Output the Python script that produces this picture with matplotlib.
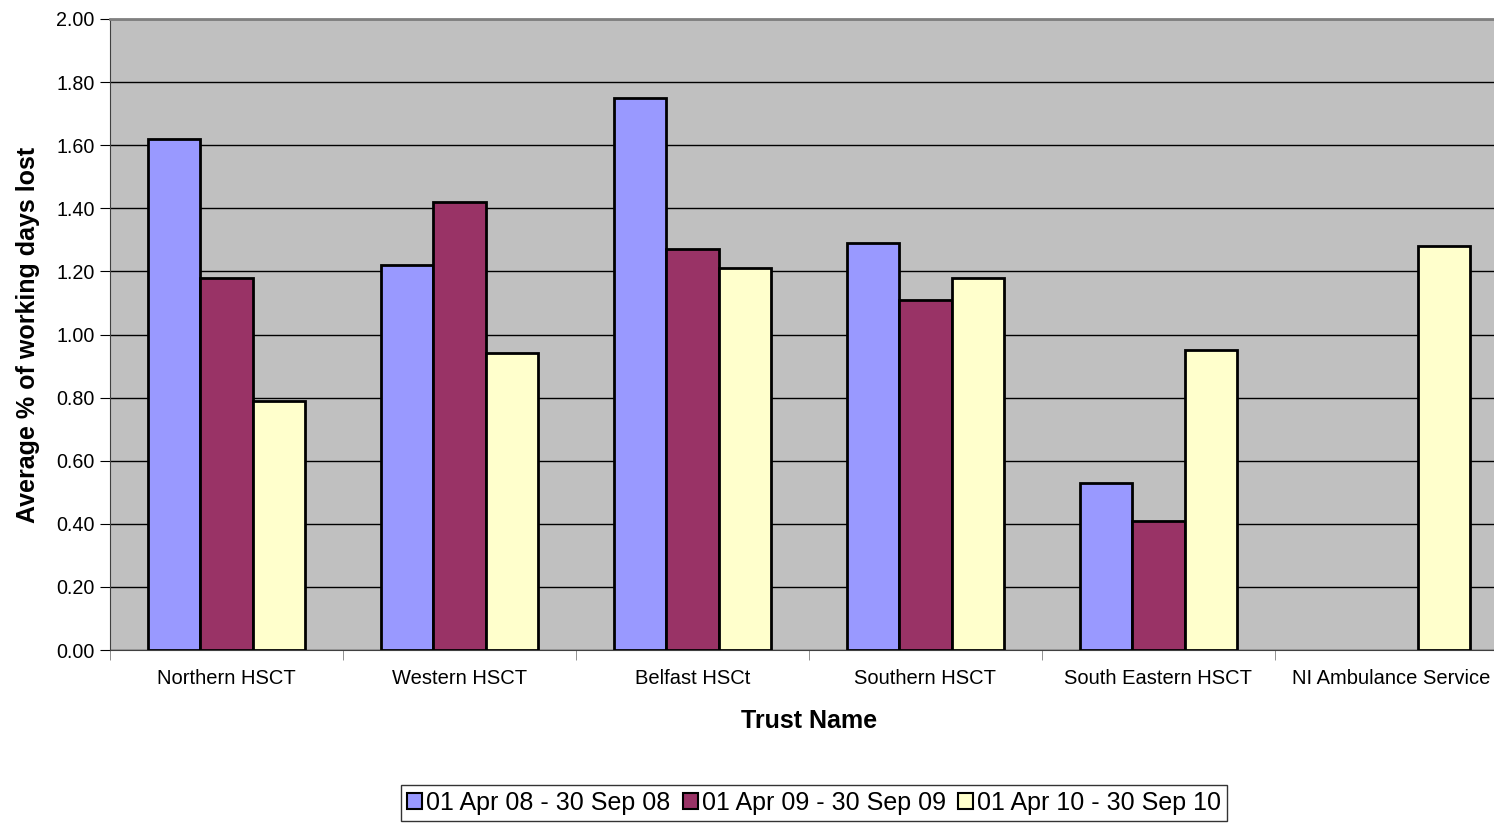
import numpy as np
import matplotlib.pyplot as plt
from matplotlib.patches import Patch

trusts = ["Northern HSCT", "Western HSCT", "Belfast HSCt", "Southern HSCT",
          "South Eastern HSCT", "NI Ambulance Service"]
periods = ["01 Apr 08 - 30 Sep 08", "01 Apr 09 - 30 Sep 09", "01 Apr 10 - 30 Sep 10"]
vals_08 = [1.62, 1.22, 1.75, 1.29, 0.53, 0]
vals_09 = [1.18, 1.42, 1.27, 1.11, 0.41, 0]
vals_10 = [0.79, 0.94, 1.21, 1.18, 0.95, 1.28]
colors = ["#9999FF", "#993366", "#FFFFCC"]

plt.rcParams['font.family'] = ['Liberation Sans', 'DejaVu Sans']

W, H = 1494, 823
fig = plt.figure(figsize=(W / 100, H / 100), dpi=100)
left, right, top, bottom = 110, 110 + 6 * 233, 19, 650
ax = fig.add_axes([left / W, 1 - bottom / H, (right - left) / W, (bottom - top) / H])
ax.set_facecolor("#C0C0C0")

x = np.arange(len(trusts))
bw = 0.224
for i, vals in enumerate([vals_08, vals_09, vals_10]):
    xs = [xi + (i - 1) * bw for xi, v in zip(x, vals) if v > 0]
    hs = [v for v in vals if v > 0]
    ax.bar(xs, hs, width=bw, color=colors[i], edgecolor="black", linewidth=2, zorder=3)

ax.set_xlim(-0.5, len(trusts) - 0.5)
ax.set_ylim(0, 2.0)
ax.set_yticks(np.arange(0, 2.01, 0.2))
ax.set_yticklabels([f"{v:.2f}" for v in np.arange(0, 2.01, 0.2)], fontsize=14.2)
ax.yaxis.grid(True, color="black", linewidth=1, zorder=1)
ax.set_axisbelow(True)

ax.set_xticks(x)
ax.set_xticklabels(trusts, fontsize=14.5)
ax.set_xticks(np.arange(-0.5, len(trusts), 1), minor=True)
ax.tick_params(axis='x', which='major', length=0, pad=14)
ax.tick_params(axis='x', which='minor', length=7, color="#808080")
ax.tick_params(axis='y', length=7, pad=4)

for s in ["top", "right"]:
    ax.spines[s].set_color("#808080")
    ax.spines[s].set_linewidth(2)
ax.spines["bottom"].set_color("#404040")
ax.spines["left"].set_color("#404040")

ax.set_xlabel("Trust Name", fontsize=18, fontweight="bold", labelpad=15)
ax.set_ylabel("Average % of working days lost", fontsize=18, fontweight="bold", labelpad=12)

handles = [Patch(facecolor=c, edgecolor="black", linewidth=1.5) for c in colors]
fig.legend(handles, periods, loc="lower center", bbox_to_anchor=(814 / W, 2 / H), ncol=3,
           fontsize=18, frameon=True, fancybox=False, edgecolor="black",
           handlelength=0.6, handleheight=0.6, handletextpad=0.15, columnspacing=0.5,
           borderpad=0.25, borderaxespad=0)

fig.savefig("out.png", dpi=100)
